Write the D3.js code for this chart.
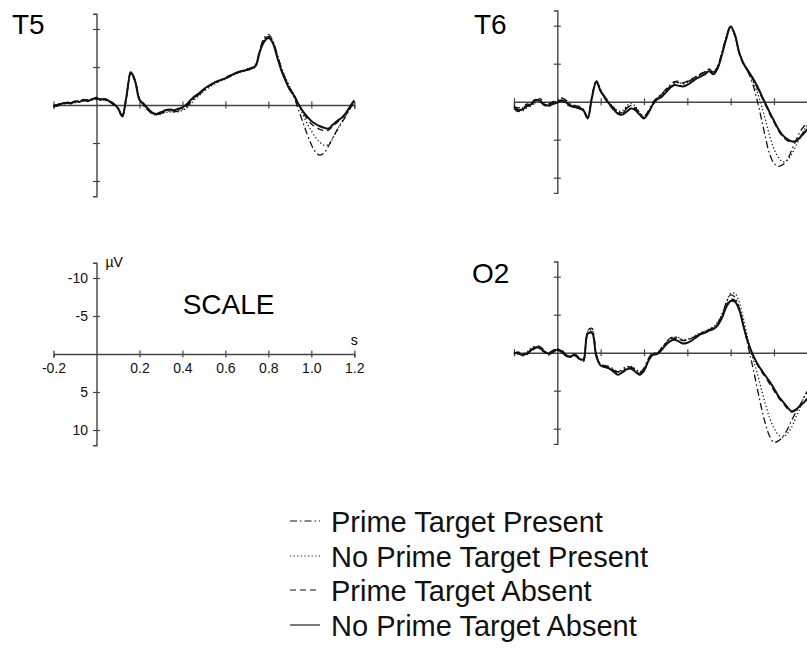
<!DOCTYPE html>
<html lang="en">
<head>
	<title>ERP waveforms T5 / T6 / O2</title>
	<meta charset="utf-8" />
	<script src="https://cdnjs.cloudflare.com/ajax/libs/d3/7.8.5/d3.min.js"></script>
	<style>
		body { margin: 0; background: #fff; }
		svg { display: block; font-family: "Liberation Sans", Arial, Helvetica, sans-serif; }
	</style>
</head>
<body>
	<svg width="807" height="662"></svg>
	<script>
		// sample times in seconds
		const times = [-0.20, -0.18, -0.16, -0.14, -0.12, -0.10, -0.08, -0.06, -0.04, -0.02,
			0.00, 0.02, 0.04, 0.06, 0.08, 0.10, 0.12, 0.14, 0.16, 0.18,
			0.20, 0.22, 0.24, 0.26, 0.28, 0.30, 0.32, 0.34, 0.36, 0.38,
			0.40, 0.42, 0.44, 0.46, 0.48, 0.50, 0.52, 0.54, 0.56, 0.58,
			0.60, 0.62, 0.64, 0.66, 0.68, 0.70, 0.72, 0.74, 0.76, 0.78,
			0.80, 0.82, 0.84, 0.86, 0.88, 0.90, 0.92, 0.94, 0.96, 0.98,
			1.00, 1.02, 1.04, 1.06, 1.08, 1.10, 1.12, 1.14, 1.16, 1.18, 1.20];

		const conditions = ["Prime Target Present", "No Prime Target Present", "Prime Target Absent", "No Prime Target Absent"];

		// microvolts, negative up
		const t5PrimePresent = [0.2, 0.1, -0.1, -0.4, -0.3, -0.4, -0.6, -0.5, -0.7, -0.6,
			-0.8, -0.8, -0.6, -0.4, 0.0, 0.5, 1.3, -1.4, -4.2, -3.0,
			-0.8, 0.1, 0.7, 1.2, 1.3, 1.1, 0.9, 0.8, 0.9, 0.8,
			0.6, 0.2, -0.4, -1.0, -1.4, -1.9, -2.4, -2.7, -3.0, -3.3,
			-3.5, -3.7, -4.0, -4.3, -4.4, -4.7, -4.9, -5.3, -7.3, -8.8,
			-9.3, -8.5, -6.8, -4.9, -3.4, -2.2, -1.0, 0.6, 2.2, 3.8,
			5.2, 6.2, 6.6, 6.3, 5.4, 4.3, 3.3, 2.4, 1.5, 0.5, -0.4];
		const t5NoPrimePresent = [0.0, 0.1, -0.1, -0.2, -0.3, -0.3, -0.5, -0.6, -0.6, -0.7,
			-0.7, -0.6, -0.7, -0.5, -0.2, 0.3, 1.4, -1.0, -4.0, -3.2,
			-0.9, 0.0, 0.6, 1.1, 1.3, 1.2, 1.0, 0.9, 0.9, 0.9,
			0.7, 0.4, -0.2, -0.8, -1.3, -1.8, -2.2, -2.6, -2.9, -3.2,
			-3.4, -3.7, -4.0, -4.2, -4.4, -4.6, -4.8, -5.0, -6.8, -8.5,
			-9.0, -8.4, -6.7, -5.0, -3.6, -2.4, -1.3, -0.1, 1.2, 2.4,
			3.4, 4.3, 4.9, 5.3, 5.2, 4.4, 3.3, 2.3, 1.4, 0.5, -0.4];
		const t5PrimeAbsent = [0.1, -0.1, -0.3, -0.2, -0.4, -0.4, -0.5, -0.6, -0.7, -0.7,
			-1.0, -0.8, -0.7, -0.6, -0.2, 0.4, 1.6, -1.1, -4.4, -3.3,
			-0.8, -0.2, 0.5, 1.1, 1.1, 0.9, 0.8, 0.6, 0.6, 0.6,
			0.4, 0.0, -0.6, -1.1, -1.5, -2.0, -2.4, -2.8, -3.0, -3.3,
			-3.6, -3.9, -4.1, -4.4, -4.5, -4.7, -4.9, -5.2, -7.1, -8.6,
			-9.0, -8.3, -6.6, -4.8, -3.4, -2.2, -1.3, -0.2, 0.9, 1.8,
			2.5, 2.9, 3.2, 3.4, 3.3, 2.8, 2.3, 1.8, 1.2, 0.3, -0.5];
		const t5NoPrimeAbsent = [0.1, 0.0, -0.2, -0.3, -0.2, -0.5, -0.4, -0.7, -0.5, -0.8,
			-0.9, -0.7, -0.8, -0.5, -0.1, 0.4, 1.5, -1.2, -4.3, -3.1,
			-0.7, -0.1, 0.5, 1.0, 1.2, 1.0, 0.7, 0.6, 0.7, 0.5,
			0.3, -0.1, -0.7, -1.2, -1.6, -2.1, -2.5, -2.8, -3.1, -3.3,
			-3.5, -3.8, -4.1, -4.3, -4.5, -4.6, -4.8, -5.1, -7.0, -8.3,
			-8.8, -8.2, -6.4, -4.6, -3.2, -2.0, -1.2, -0.1, 0.8, 1.5,
			2.1, 2.5, 2.8, 3.0, 3.1, 2.6, 2.1, 1.7, 1.1, 0.2, -0.6];

		const t6PrimePresent = [0.9, 1.3, 0.8, 0.3, 0.6, 0.0, -0.4, 0.1, 0.3, 0.0,
			-0.2, -0.5, -0.2, 0.3, 0.5, 0.6, 1.0, 2.0, -0.8, -2.8,
			-1.6, -0.6, 0.2, 0.8, 1.3, 1.5, 0.9, 0.5, 0.8, 1.4,
			1.9, 1.2, 0.1, -0.5, -1.0, -1.6, -2.2, -2.6, -2.5, -2.4,
			-2.6, -2.9, -3.3, -3.6, -3.9, -4.3, -3.9, -4.7, -6.5, -8.6,
			-10.0, -8.6, -6.4, -4.9, -3.9, -2.5, -0.5, 2.0, 4.6, 6.9,
			8.1, 8.5, 8.3, 7.7, 6.5, 5.2, 4.0, 3.2, 2.7, 2.2, 1.8];
		const t6NoPrimePresent = [0.4, 0.9, 1.2, 0.8, 0.4, 0.1, -0.3, 0.2, 0.6, 0.2,
			-0.1, -0.4, 0.0, 0.4, 0.8, 0.7, 1.2, 2.1, -0.5, -2.5,
			-1.5, -0.7, 0.1, 0.7, 1.2, 1.2, 0.6, 0.2, 0.6, 1.5,
			2.0, 1.4, 0.3, -0.4, -0.9, -1.4, -2.0, -2.4, -2.6, -2.3,
			-2.5, -2.8, -3.2, -3.5, -3.8, -4.2, -3.8, -4.6, -6.4, -8.5,
			-9.8, -8.7, -6.5, -5.0, -4.0, -2.9, -1.5, 0.3, 2.3, 4.5,
			6.2, 7.3, 7.9, 7.7, 7.0, 5.9, 4.8, 3.7, 2.9, 2.3, 1.8];
		const t6PrimeAbsent = [0.7, 0.8, 0.7, 0.5, 0.1, -0.3, 0.0, 0.5, 0.4, 0.1,
			0.2, -0.1, 0.3, 0.6, 0.8, 0.9, 1.2, 2.0, -0.7, -2.7,
			-1.3, -0.4, 0.4, 1.1, 1.5, 1.4, 0.8, 0.6, 1.0, 1.6,
			2.1, 1.4, 0.4, -0.4, -0.9, -1.5, -2.0, -2.6, -2.7, -2.5,
			-2.7, -3.0, -3.3, -3.7, -3.9, -4.3, -3.8, -4.6, -6.3, -8.4,
			-9.8, -8.7, -6.3, -4.9, -4.0, -3.1, -2.0, -0.8, 0.4, 1.6,
			2.7, 3.8, 4.6, 5.1, 5.3, 5.2, 4.6, 3.9, 3.2, 2.4, 1.7];
		const t6NoPrimeAbsent = [0.6, 1.1, 1.0, 0.6, 0.3, -0.2, -0.1, 0.4, 0.5, 0.3,
			0.1, -0.2, 0.1, 0.5, 0.7, 0.8, 1.1, 2.2, -0.6, -2.6,
			-1.4, -0.5, 0.3, 1.0, 1.6, 1.7, 1.3, 0.9, 1.1, 1.7,
			2.2, 1.5, 0.4, -0.3, -0.6, -1.2, -1.8, -2.2, -2.1, -2.0,
			-2.2, -2.6, -3.0, -3.3, -3.6, -4.0, -3.6, -4.4, -6.2, -8.3,
			-9.9, -8.8, -6.4, -5.0, -4.1, -3.2, -2.2, -1.0, 0.2, 1.4,
			2.5, 3.6, 4.4, 4.9, 5.2, 5.2, 4.7, 4.1, 3.4, 2.6, 1.8];

		const o2PrimePresent = [0.1, -0.1, 0.4, 0.2, -0.3, -0.9, -0.8, -0.3, 0.2, 0.0,
			-0.5, -0.3, 0.2, 0.6, 0.2, 0.6, 1.0, -2.9, -3.2, 0.2,
			1.5, 1.7, 1.8, 2.2, 2.5, 2.2, 1.8, 1.9, 2.2, 2.6,
			2.0, 0.8, 0.0, 0.1, -0.6, -1.3, -1.9, -2.1, -1.9, -1.6,
			-1.7, -1.9, -2.2, -2.5, -2.8, -3.0, -3.3, -3.9, -5.0, -6.6,
			-7.6, -7.3, -5.8, -3.5, -0.9, 1.6, 4.3, 7.0, 9.3, 11.0,
			11.8, 11.6, 11.1, 10.2, 9.0, 7.9, 6.9, 5.8, 4.8, 4.0, 3.2];
		const o2NoPrimePresent = [-0.1, 0.2, 0.2, -0.1, -0.6, -0.8, -0.5, 0.0, 0.3, -0.1,
			-0.3, 0.0, 0.3, 0.4, 0.4, 0.7, 1.1, -2.7, -3.0, 0.3,
			1.6, 1.8, 2.0, 2.3, 2.6, 2.4, 2.0, 1.8, 2.1, 2.5,
			2.2, 1.0, 0.2, 0.0, -0.5, -1.2, -1.8, -2.0, -2.0, -1.7,
			-1.8, -2.0, -2.3, -2.6, -2.8, -3.1, -3.4, -4.0, -5.1, -6.6,
			-7.8, -7.8, -6.6, -4.4, -1.8, 0.5, 2.4, 4.6, 6.7, 8.6,
			9.9, 10.8, 11.1, 10.7, 9.9, 8.6, 7.3, 5.8, 4.8, 3.9, 3.2];
		const o2PrimeAbsent = [0.0, 0.0, 0.2, 0.2, -0.2, -0.6, -0.7, -0.2, 0.0, -0.3,
			-0.5, -0.2, 0.3, 0.6, 0.3, 0.7, 1.2, -2.4, -2.7, 0.3,
			1.6, 1.8, 1.9, 2.3, 2.7, 2.5, 2.0, 2.0, 2.3, 2.7,
			2.3, 1.0, 0.2, 0.1, -0.5, -1.2, -1.7, -1.9, -1.8, -1.6,
			-1.7, -1.9, -2.2, -2.5, -2.8, -3.0, -3.3, -3.8, -4.8, -6.2,
			-7.0, -6.9, -5.7, -3.5, -1.4, 0.2, 1.4, 2.4, 3.2, 4.1,
			5.0, 5.9, 6.6, 7.3, 7.8, 7.6, 7.0, 6.4, 5.8, 5.0, 4.3];
		const o2NoPrimeAbsent = [0.0, 0.1, 0.3, 0.1, -0.4, -0.7, -0.6, -0.1, 0.1, -0.2,
			-0.4, -0.1, 0.4, 0.5, 0.3, 0.8, 0.9, -2.5, -2.6, 0.5,
			1.7, 1.9, 2.1, 2.5, 2.9, 2.6, 2.2, 2.1, 2.5, 2.9,
			2.4, 1.1, 0.3, 0.2, -0.3, -1.0, -1.5, -1.7, -1.5, -1.2,
			-1.3, -1.6, -2.0, -2.4, -2.6, -2.9, -3.1, -3.6, -4.6, -6.0,
			-6.8, -6.7, -5.6, -3.4, -1.4, 0.1, 1.3, 2.2, 3.0, 3.8,
			4.7, 5.7, 6.4, 7.1, 7.7, 7.5, 7.0, 6.5, 5.9, 5.2, 4.5];

		const xTickValues = [-0.2, 0.2, 0.4, 0.6, 0.8, 1.0, 1.2];
		const xTickLabels = ["-0.2", "0.2", "0.4", "0.6", "0.8", "1.0", "1.2"];
		const yTickValues = [-10, -5, 5, 10];
		const yTickLabels = ["-10", "-5", "5", "10"];

		// line style for each condition, same order as conditions
		const dashes = ["7,3,1.5,3", "1.2,2.4", "6,4", null];
		const widths = [1.3, 1.3, 1.3, 2];

		const panels = [
			{ label: "T5", series: [t5PrimePresent, t5NoPrimePresent, t5PrimeAbsent, t5NoPrimeAbsent], left: 53.5, right: 354.3, top: 13.8, bottom: 196.2, lx: 12, ly: 33.5 },
			{ label: "T6", series: [t6PrimePresent, t6NoPrimePresent, t6PrimeAbsent, t6NoPrimeAbsent], left: 514, right: 817.3, top: 10.5, bottom: 192.9, lx: 474, ly: 33.5 },
			{ label: "SCALE", series: [], left: 53.5, right: 354.3, top: 262.8, bottom: 445.2 },
			{ label: "O2", series: [o2PrimePresent, o2NoPrimePresent, o2PrimeAbsent, o2NoPrimeAbsent], left: 514, right: 817.3, top: 261.5, bottom: 443.9, lx: 472, ly: 282.5 }
		];

		let svg = d3.select('svg');

		panels.forEach(p => {
			let x = d3.scaleLinear().domain([-0.2, 1.2]).range([p.left, p.right]);
			let y = d3.scaleLinear().domain([-12, 12]).range([p.top, p.bottom]);
			let isScale = p.label == "SCALE";
			let g = svg.append('g');

			// x axis through 0 µV
			let xAxis = d3.axisBottom(x)
				.tickValues(xTickValues)
				.tickSizeOuter(0)
				.tickSize(3.5)
				.tickPadding(5)
				.tickFormat((d, i) => isScale ? xTickLabels[i] : "");
			let gx = g.append('g')
				.attr('transform', `translate(0,${y(0)})`)
				.call(xAxis);

			// y axis through 0 s
			let yAxis = d3.axisLeft(y)
				.tickValues(yTickValues)
				.tickSizeOuter(0)
				.tickSize(3.5)
				.tickPadding(5)
				.tickFormat((d, i) => isScale ? yTickLabels[i] : "");
			let gy = g.append('g')
				.attr('transform', `translate(${x(0)},0)`)
				.call(yAxis);

			[gx, gy].forEach(a => {
				a.select('.domain').attr('stroke', '#444').attr('stroke-width', 1.4);
				a.selectAll('.tick line').attr('stroke', '#444').attr('stroke-width', 1.2);
				a.selectAll('.tick text').attr('fill', '#111').attr('font-size', 14)
					.attr('font-family', '"Liberation Sans", Arial, sans-serif');
			});
			gx.selectAll('.tick line').attr('y1', -3.5).attr('y2', 3.5);
			gy.selectAll('.tick line').attr('x1', -3.5).attr('x2', 3.5);
			gx.selectAll('.tick text').attr('y', 9);

			if (isScale) {
				g.append('text')
					.attr('x', x(0) + 9)
					.attr('y', y(-11.4))
					.attr('font-size', 14)
					.text("µV");
				g.append('text')
					.attr('x', x(1.2))
					.attr('y', y(0) - 9)
					.attr('text-anchor', 'middle')
					.attr('font-size', 14)
					.text("s");
				g.append('text')
					.attr('x', x(0.615))
					.attr('y', y(-5.2))
					.attr('text-anchor', 'middle')
					.attr('font-size', 28)
					.text("SCALE");
				return;
			}

			g.append('text')
				.attr('x', p.lx)
				.attr('y', p.ly)
				.attr('font-size', 28)
				.text(p.label);

			let line = d3.line()
				.x((d, i) => x(times[i]))
				.y(d => y(d))
				.curve(d3.curveCatmullRom.alpha(0.5));

			g.selectAll('path.wave')
				.data(p.series)
				.enter()
				.append('path')
				.attr('class', 'wave')
				.attr('d', line)
				.attr('fill', 'none')
				.attr('stroke', '#111')
				.attr('stroke-width', (d, i) => widths[i])
				.attr('stroke-dasharray', (d, i) => dashes[i]);
		});

		// legend
		let legendY = [521, 556, 590, 625];
		let legend = svg.selectAll('g.legend')
			.data(conditions)
			.enter()
			.append('g')
			.attr('class', 'legend')
			.attr('transform', (d, i) => `translate(0,${legendY[i]})`);
		legend.append('line')
			.attr('x1', 290)
			.attr('x2', 320)
			.attr('stroke', '#111')
			.attr('stroke-width', 1.1)
			.attr('stroke-dasharray', (d, i) => dashes[i]);
		legend.append('text')
			.attr('x', 331)
			.attr('y', 10.5)
			.attr('font-size', 29)
			.attr('fill', '#111')
			.text(d => d);
	</script>
</body>
</html>
